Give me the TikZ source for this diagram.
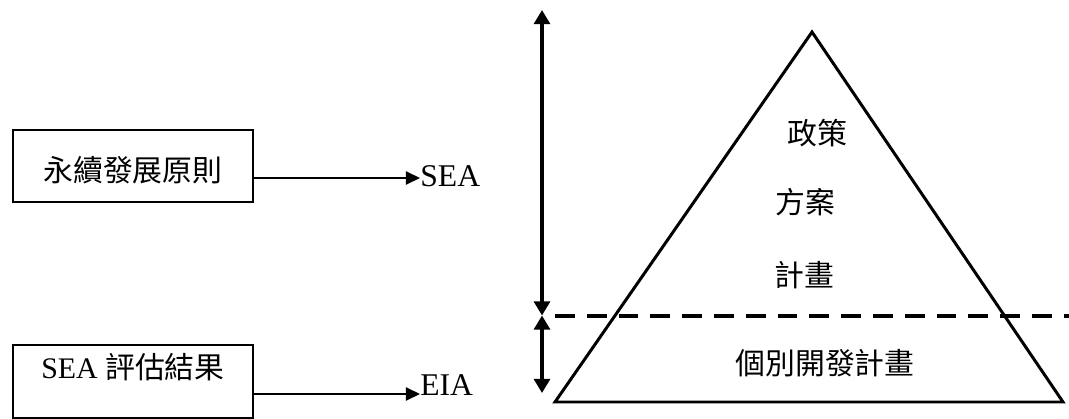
\documentclass[tikz,border=0pt]{standalone}
\usepackage{fontspec}
\setmainfont{Liberation Serif}
\newfontfamily\cjk{Noto Sans CJK TC}
\usetikzlibrary{arrows.meta}

\begin{document}
\begin{tikzpicture}[x=0.02cm, y=-0.02cm,
    font=\fontsize{17}{20}\selectfont,
    box/.style={draw, line width=1.1pt, inner sep=0pt, minimum width=4.8cm},
    conn/.style={line width=0.8pt, -{Triangle[length=8pt, width=7.5pt]}},
    span/.style={line width=1.9pt, {Triangle[length=8pt, width=9pt]}-{Triangle[length=8pt, width=9pt]}}]

    \useasboundingbox (0,0) rectangle (1069,419);

    % ==========================================
    % LEFT: BOXES AND ARROWS
    % ==========================================

    % Sustainable development box -> SEA
    \node[box, text height=29.2pt, text depth=11.6pt] (principle) at (133,166) {\cjk 永續發展原則};
    \node[anchor=base west, inner sep=0pt, font=\fontsize{18}{20}\selectfont] (sea) at (420,186) {SEA};
    \draw[conn] (principle.east |- 0,178) -- (sea.west |- 0,178);

    % SEA result box -> EIA
    \node[box, text height=19pt, text depth=22.4pt] (result) at (133,381.5) {SEA {\cjk 評估結果}};
    \node[anchor=base west, inner sep=0pt, font=\fontsize{18}{20}\selectfont] (eia) at (420,395) {EIA};
    \draw[conn] (result.east |- 0,394) -- (eia.west |- 0,394);

    % ==========================================
    % RIGHT: PYRAMID
    % ==========================================

    % Vertical span arrows
    \coordinate (top) at (542,10);
    \coordinate (mid) at (542,315.5);
    \coordinate (bot) at (542,393);
    \draw[span] (top) -- (mid);
    \draw[span] (mid) -- (bot);

    % Triangle
    \coordinate (apex) at (812,32);
    \coordinate (baseL) at (555,402);
    \coordinate (baseR) at (1063,402);
    \draw[line width=1.7pt, line join=miter] (apex) -- (baseL) -- (baseR) -- cycle;

    % Dashed divider
    \draw[line width=2.3pt, dash pattern=on 11.3pt off 6.8pt] (555,316) -- (1069,316);

    % Levels
    \node (policy) at (817,133) {\cjk 政策};
    \node (plan) at (805,202) {\cjk 方案};
    \node (program) at (804,275) {\cjk 計畫};
    \node (project) at (825,363) {\cjk 個別開發計畫};

\end{tikzpicture}
\end{document}
